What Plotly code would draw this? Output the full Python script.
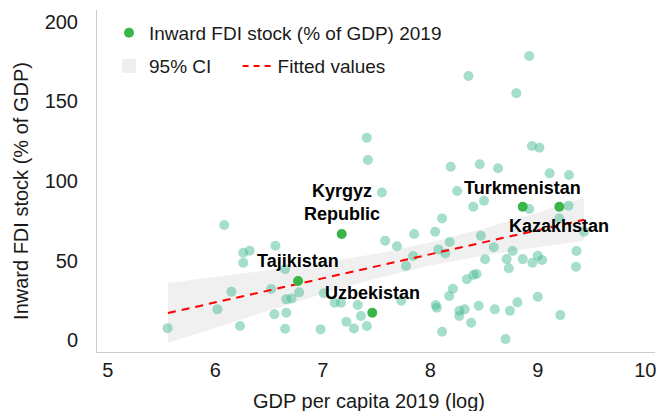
import plotly.graph_objects as go

# ---- data ----
gdp_log = [5.556, 6.02, 6.083, 6.15, 6.23, 6.26, 6.32, 6.26, 6.52, 6.55, 6.56, 6.65, 6.66, 6.71,
           6.78, 6.66, 6.65, 6.98, 7.01, 7.11, 7.17, 7.22, 7.29, 7.325, 7.355, 7.41, 7.41, 7.42,
           7.55, 7.58, 7.69, 7.73, 7.775, 7.84, 7.85, 8.045, 8.05, 8.06, 8.075, 8.11, 8.11, 8.14,
           8.18, 8.175, 8.19, 8.21, 8.25, 8.27, 8.32, 8.27, 8.34, 8.355, 8.38, 8.40, 8.43, 8.40,
           8.45, 8.46, 8.47, 8.50, 8.51, 8.59, 8.60, 8.63, 8.70, 8.71, 8.73, 8.74, 8.765, 8.80,
           8.81, 8.86, 8.92, 8.92, 8.945, 8.95, 9.0, 9.0, 9.015, 9.04, 9.11, 9.2, 9.21, 9.285,
           9.29, 9.355, 9.36, 9.43]
fdi_stock = [7.5, 19.3, 72.3, 30.4, 8.8, 54.9, 56.2, 48.6, 32.1, 16.2, 59.3, 44.5, 25.6, 26.2,
             30.0, 17.2, 7.1, 6.7, 29.4, 23.5, 23.5, 11.5, 7.3, 22.0, 15.1, 8.8, 127.2, 113.2,
             92.8, 62.5, 59.0, 24.7, 46.6, 52.8, 66.7, 68.1, 22.0, 20.3, 57.0, 76.5, 5.2, 54.5,
             61.6, 27.7, 109.0, 32.3, 93.7, 18.4, 19.3, 15.1, 38.2, 166.0, 10.9, 40.9, 41.5, 83.8,
             21.6, 110.5, 65.6, 87.6, 50.8, 58.3, 19.3, 108.0, 0.6, 50.9, 45.1, 18.4, 56.0, 155.2,
             23.7, 50.9, 82.4, 178.6, 122.0, 48.6, 53.0, 27.2, 120.9, 50.3, 104.8, 76.5, 15.7, 84.5,
             103.8, 46.1, 56.0, 68.1]

hl_names = ["Tajikistan", "Kyrgyz<br>Republic", "Uzbekistan", "Turkmenistan", "Kazakhstan"]
hl_gdp_log = [6.77, 7.176, 7.46, 8.86, 9.20]
hl_fdi_stock = [37.1, 66.7, 17.2, 83.8, 83.8]

fit_x = [5.56, 9.43]
fit_y = [17.0, 75.6]

ci_x = [5.56, 6.0, 6.5, 7.0, 7.5, 8.0, 8.5, 9.0, 9.43]
ci_lo = [-1.8, 7.8, 18.6, 29.1, 38.7, 46.9, 53.2, 58.4, 62.4]
ci_hi = [35.9, 39.6, 44.0, 48.7, 54.3, 61.3, 70.2, 80.2, 89.4]

x_ticks = [5, 6, 7, 8, 9, 10]
y_ticks = [0, 50, 100, 150, 200]

# ---- styles ----
FONT = "Liberation Sans, Arial, sans-serif"
TXT = "#1a1a1a"
GREEN = "#3bb54a"
LIGHT = "rgba(64,184,144,0.47)"

fig = go.Figure()

fig.add_trace(go.Scatter(
    x=ci_x + ci_x[::-1], y=ci_hi + ci_lo[::-1], fill="toself",
    fillcolor="#f0f0f0", line=dict(width=0, color="#f0f0f0"), mode="lines",
    showlegend=False, hoverinfo="skip"))

fig.add_trace(go.Scatter(
    x=gdp_log, y=fdi_stock, mode="markers",
    marker=dict(size=10, color=LIGHT, line=dict(width=0)),
    showlegend=False))

fig.add_trace(go.Scatter(
    x=fit_x, y=fit_y, mode="lines",
    line=dict(color="#ff0000", width=2, dash="8px,6px"),
    showlegend=False))

fig.add_trace(go.Scatter(
    x=hl_gdp_log, y=hl_fdi_stock, mode="markers", name="Inward FDI stock (% of GDP) 2019",
    marker=dict(size=10, color=GREEN, line=dict(width=0)),
    legend="legend"))

# legend-only entries
fig.add_trace(go.Scatter(
    x=[None], y=[None], mode="markers", name="95% CI",
    marker=dict(symbol="square", size=14, color="#efefef"),
    legend="legend2"))
fig.add_trace(go.Scatter(
    x=[None], y=[None], mode="lines", name="Fitted values",
    line=dict(color="#ff0000", width=2, dash="6px,5px"),
    legend="legend3"))

label_style = {
    "Tajikistan": ("bottom", 8),
    "Kyrgyz<br>Republic": ("bottom", 8),
    "Uzbekistan": ("bottom", 8),
    "Turkmenistan": ("bottom", 7),
    "Kazakhstan": ("top", -7),
}
for name, xv, yv in zip(hl_names, hl_gdp_log, hl_fdi_stock):
    anchor, shift = label_style[name]
    fig.add_annotation(
        x=xv, y=yv, xref="x", yref="y", text="<b>" + name + "</b>", showarrow=False,
        xanchor="center", yanchor=anchor, yshift=shift,
        font=dict(family=FONT, size=18, color="#000000"))

# axis titles
fig.add_annotation(x=0.487, y=-0.142, xref="paper", yref="paper", yanchor="middle",
                   text="GDP per capita 2019 (log)", showarrow=False,
                   font=dict(family=FONT, size=20, color=TXT))
fig.add_annotation(x=-0.135, y=0.47, xref="paper", yref="paper", xanchor="center",
                   yanchor="middle", textangle=-90,
                   text="Inward FDI stock (% of GDP)", showarrow=False,
                   font=dict(family=FONT, size=20, color=TXT))

legend_common = dict(xanchor="left", yanchor="middle", bgcolor="rgba(0,0,0,0)",
                     font=dict(family=FONT, size=19, color=TXT))

fig.update_layout(
    width=659, height=411,
    margin=dict(l=97, r=4, t=10, b=59, autoexpand=False),
    paper_bgcolor="white", plot_bgcolor="white",
    font=dict(family=FONT, color=TXT),
    legend=dict(x=0.0215, y=0.933, **legend_common),
    legend2=dict(x=0.0215, y=0.836, **legend_common),
    legend3=dict(x=0.252, y=0.836, **legend_common),
    xaxis=dict(range=[4.9, 10.09], tickvals=x_ticks, ticktext=[str(v) for v in x_ticks],
               showgrid=False, zeroline=False, showline=True, linecolor="#cccccc", linewidth=1,
               ticks="", automargin=False, tickfont=dict(family=FONT, size=20, color=TXT)),
    yaxis=dict(range=[-7.5, 207.5], tickvals=y_ticks, ticktext=[str(v) for v in y_ticks],
               showgrid=False, zeroline=False, showline=True, linecolor="#cccccc", linewidth=1,
               ticks="", automargin=False, ticklabelstandoff=14,
               tickfont=dict(family=FONT, size=20, color=TXT)),
)

fig.write_html("out.html", config={"displayModeBar": False},
               post_script="document.body.style.margin='0';")
